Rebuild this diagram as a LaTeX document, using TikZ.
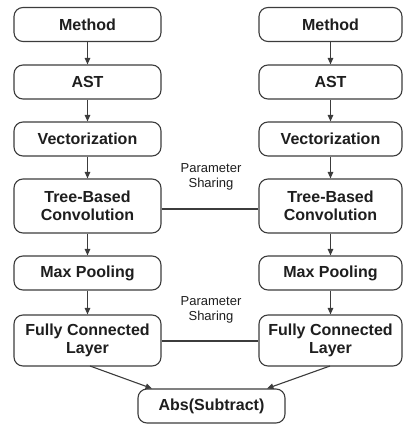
\documentclass[tikz,border=0pt]{standalone}
\usepackage{fontspec}
\setmainfont{Liberation Sans}
\usetikzlibrary{arrows.meta}
\definecolor{edgegray}{RGB}{60,60,60}
\definecolor{txt}{RGB}{30,30,30}
\tikzset{
  stepbox/.style={draw=edgegray, line width=1.1pt, rounded corners=9pt, fill=white,
    minimum height=34pt, align=center, inner sep=0pt, text=txt,
    font=\fontsize{16}{18}\selectfont\bfseries},
  flow/.style={draw=edgegray, line width=1.1pt, -{Triangle[length=6.5pt,width=5.5pt]}},
  share/.style={draw=edgegray, line width=1.1pt},
  sharelbl/.style={font=\fontsize{13}{15}\selectfont, text=txt, align=center, inner sep=0pt}
}
\begin{document}
\begin{tikzpicture}[x=1pt,y=-1pt]
\useasboundingbox (0,0) rectangle (404,424);
% left column
\node[stepbox, minimum width=147pt] (lm) at (87.5,24.5) {Method};
\node[stepbox, minimum width=147pt] (la) at (87.5,82) {AST};
\node[stepbox, minimum width=147pt] (lv) at (87.5,139) {Vectorization};
\node[stepbox, minimum width=147pt, minimum height=54pt] (lt) at (87.5,206) {Tree-Based\\Convolution};
\node[stepbox, minimum width=147pt] (lp) at (87.5,273) {Max Pooling};
\node[stepbox, minimum width=147pt, minimum height=51pt] (lf) at (87.5,340.5) {Fully Connected\\Layer};
% right column
\node[stepbox, minimum width=143pt] (rm) at (330.5,24.5) {Method};
\node[stepbox, minimum width=143pt] (ra) at (330.5,82) {AST};
\node[stepbox, minimum width=143pt] (rv) at (330.5,139) {Vectorization};
\node[stepbox, minimum width=143pt, minimum height=54pt] (rt) at (330.5,206) {Tree-Based\\Convolution};
\node[stepbox, minimum width=143pt] (rp) at (330.5,273) {Max Pooling};
\node[stepbox, minimum width=143pt, minimum height=51pt] (rf) at (330.5,340.5) {Fully Connected\\Layer};
% bottom
\node[stepbox, minimum width=147pt] (abs) at (211.5,406) {Abs(Subtract)};
% arrows
\draw[flow] (lm) -- (la);
\draw[flow] (la) -- (lv);
\draw[flow] (lv) -- (lt);
\draw[flow] (lt) -- (lp);
\draw[flow] (lp) -- (lf);
\draw[flow] (rm) -- (ra);
\draw[flow] (ra) -- (rv);
\draw[flow] (rv) -- (rt);
\draw[flow] (rt) -- (rp);
\draw[flow] (rp) -- (rf);
\coordinate (lfb) at (90,366);
\coordinate (rfb) at (330,366);
\coordinate (absl) at (152,388.5);
\coordinate (absr) at (267,388.5);
\draw[flow] (lfb) -- (absl);
\draw[flow] (rfb) -- (absr);
% parameter sharing
\draw[share] (lt.east |- 0,209) -- (rt.west |- 0,209);
\draw[share] (lf.east |- 0,341) -- (rf.west |- 0,341);
\node[sharelbl] (ps1) at (211,177) {Parameter\\Sharing};
\node[sharelbl] (ps2) at (211,310) {Parameter\\Sharing};
\end{tikzpicture}
\end{document}
